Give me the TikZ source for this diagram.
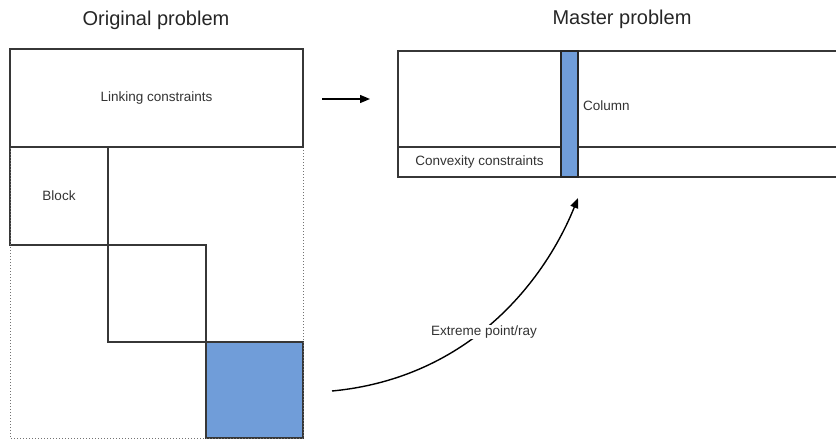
\documentclass[tikz,border=0pt]{standalone}
\usepackage{fontspec}
\setmainfont{Liberation Sans}
\usepackage{tikz}
\usetikzlibrary{arrows.meta,positioning,calc}
\usepackage{xcolor}
\definecolor{colblue}{RGB}{112,157,217}
\definecolor{linegray}{RGB}{55,55,55}

\begin{document}
\begin{tikzpicture}[x=1pt,y=1pt,
    box/.style={draw=linegray, line width=1.2pt, inner sep=0pt, outer sep=0pt},
    lbl/.style={font=\fontsize{13.5}{16}\selectfont, text=black!80},
    ttl/.style={font=\fontsize{20}{24}\selectfont, text=black!85, anchor=base},
    arr/.style={draw=black, line width=1.4pt, -{Triangle[length=10pt,width=8pt]}}]
\useasboundingbox (0,0) rectangle (836,440);

% Original problem
\node[ttl] (ttlorig) at (156,414) {Original problem};
\node[box, minimum width=293pt, minimum height=98pt, lbl] (link) at (156.5,342) {Linking constraints};
\node[box, minimum width=98pt, minimum height=98pt, lbl] (blk1) at (59,244) {Block};
\node[box, minimum width=98pt, minimum height=97pt] (blk2) at (157,146.5) {};
\node[box, minimum width=97pt, minimum height=96pt, fill=colblue] (blk3) at (254.5,50) {};
\draw[black!55, dotted, line width=1pt] (link.north west) rectangle (blk3.south east);
\draw[draw=linegray, line width=1.2pt] (link.north west) rectangle (link.south east);

% Master problem
\node[ttl] (ttlmast) at (622,415) {Master problem};
\node[inner sep=0pt, outer sep=0pt, minimum width=438pt, minimum height=126pt] (master) at (617,326) {};
\draw[draw=linegray, line width=1.2pt] (master.north east) -- (master.north west) -- (master.south west) -- (master.south east);
\node[box, draw=none, minimum width=163pt, minimum height=30pt, lbl] (convex) at (479.5,278) {Convexity constraints};
\draw[draw=linegray, line width=1.2pt] (convex.north west) -- (convex.north west -| master.east);
\node[box, draw=black!85, fill=colblue, minimum width=17pt, minimum height=126pt] (col) at (569.5,326) {};
\node[lbl, anchor=west, inner sep=0pt] (collbl) at (583,334) {Column};

% Arrows
\coordinate (a1) at (322,341);
\coordinate (a2) at (370,341);
\draw[arr] (a1) -- (a2);
\coordinate (c1) at (332,49);
\coordinate (c2) at (578,242);
\draw[arr] (c1) .. controls (470,62) and (545,160) .. (c2);
\node[lbl, fill=white, inner sep=1pt] (rayl) at (484,108) {Extreme point/ray};
\end{tikzpicture}
\end{document}
